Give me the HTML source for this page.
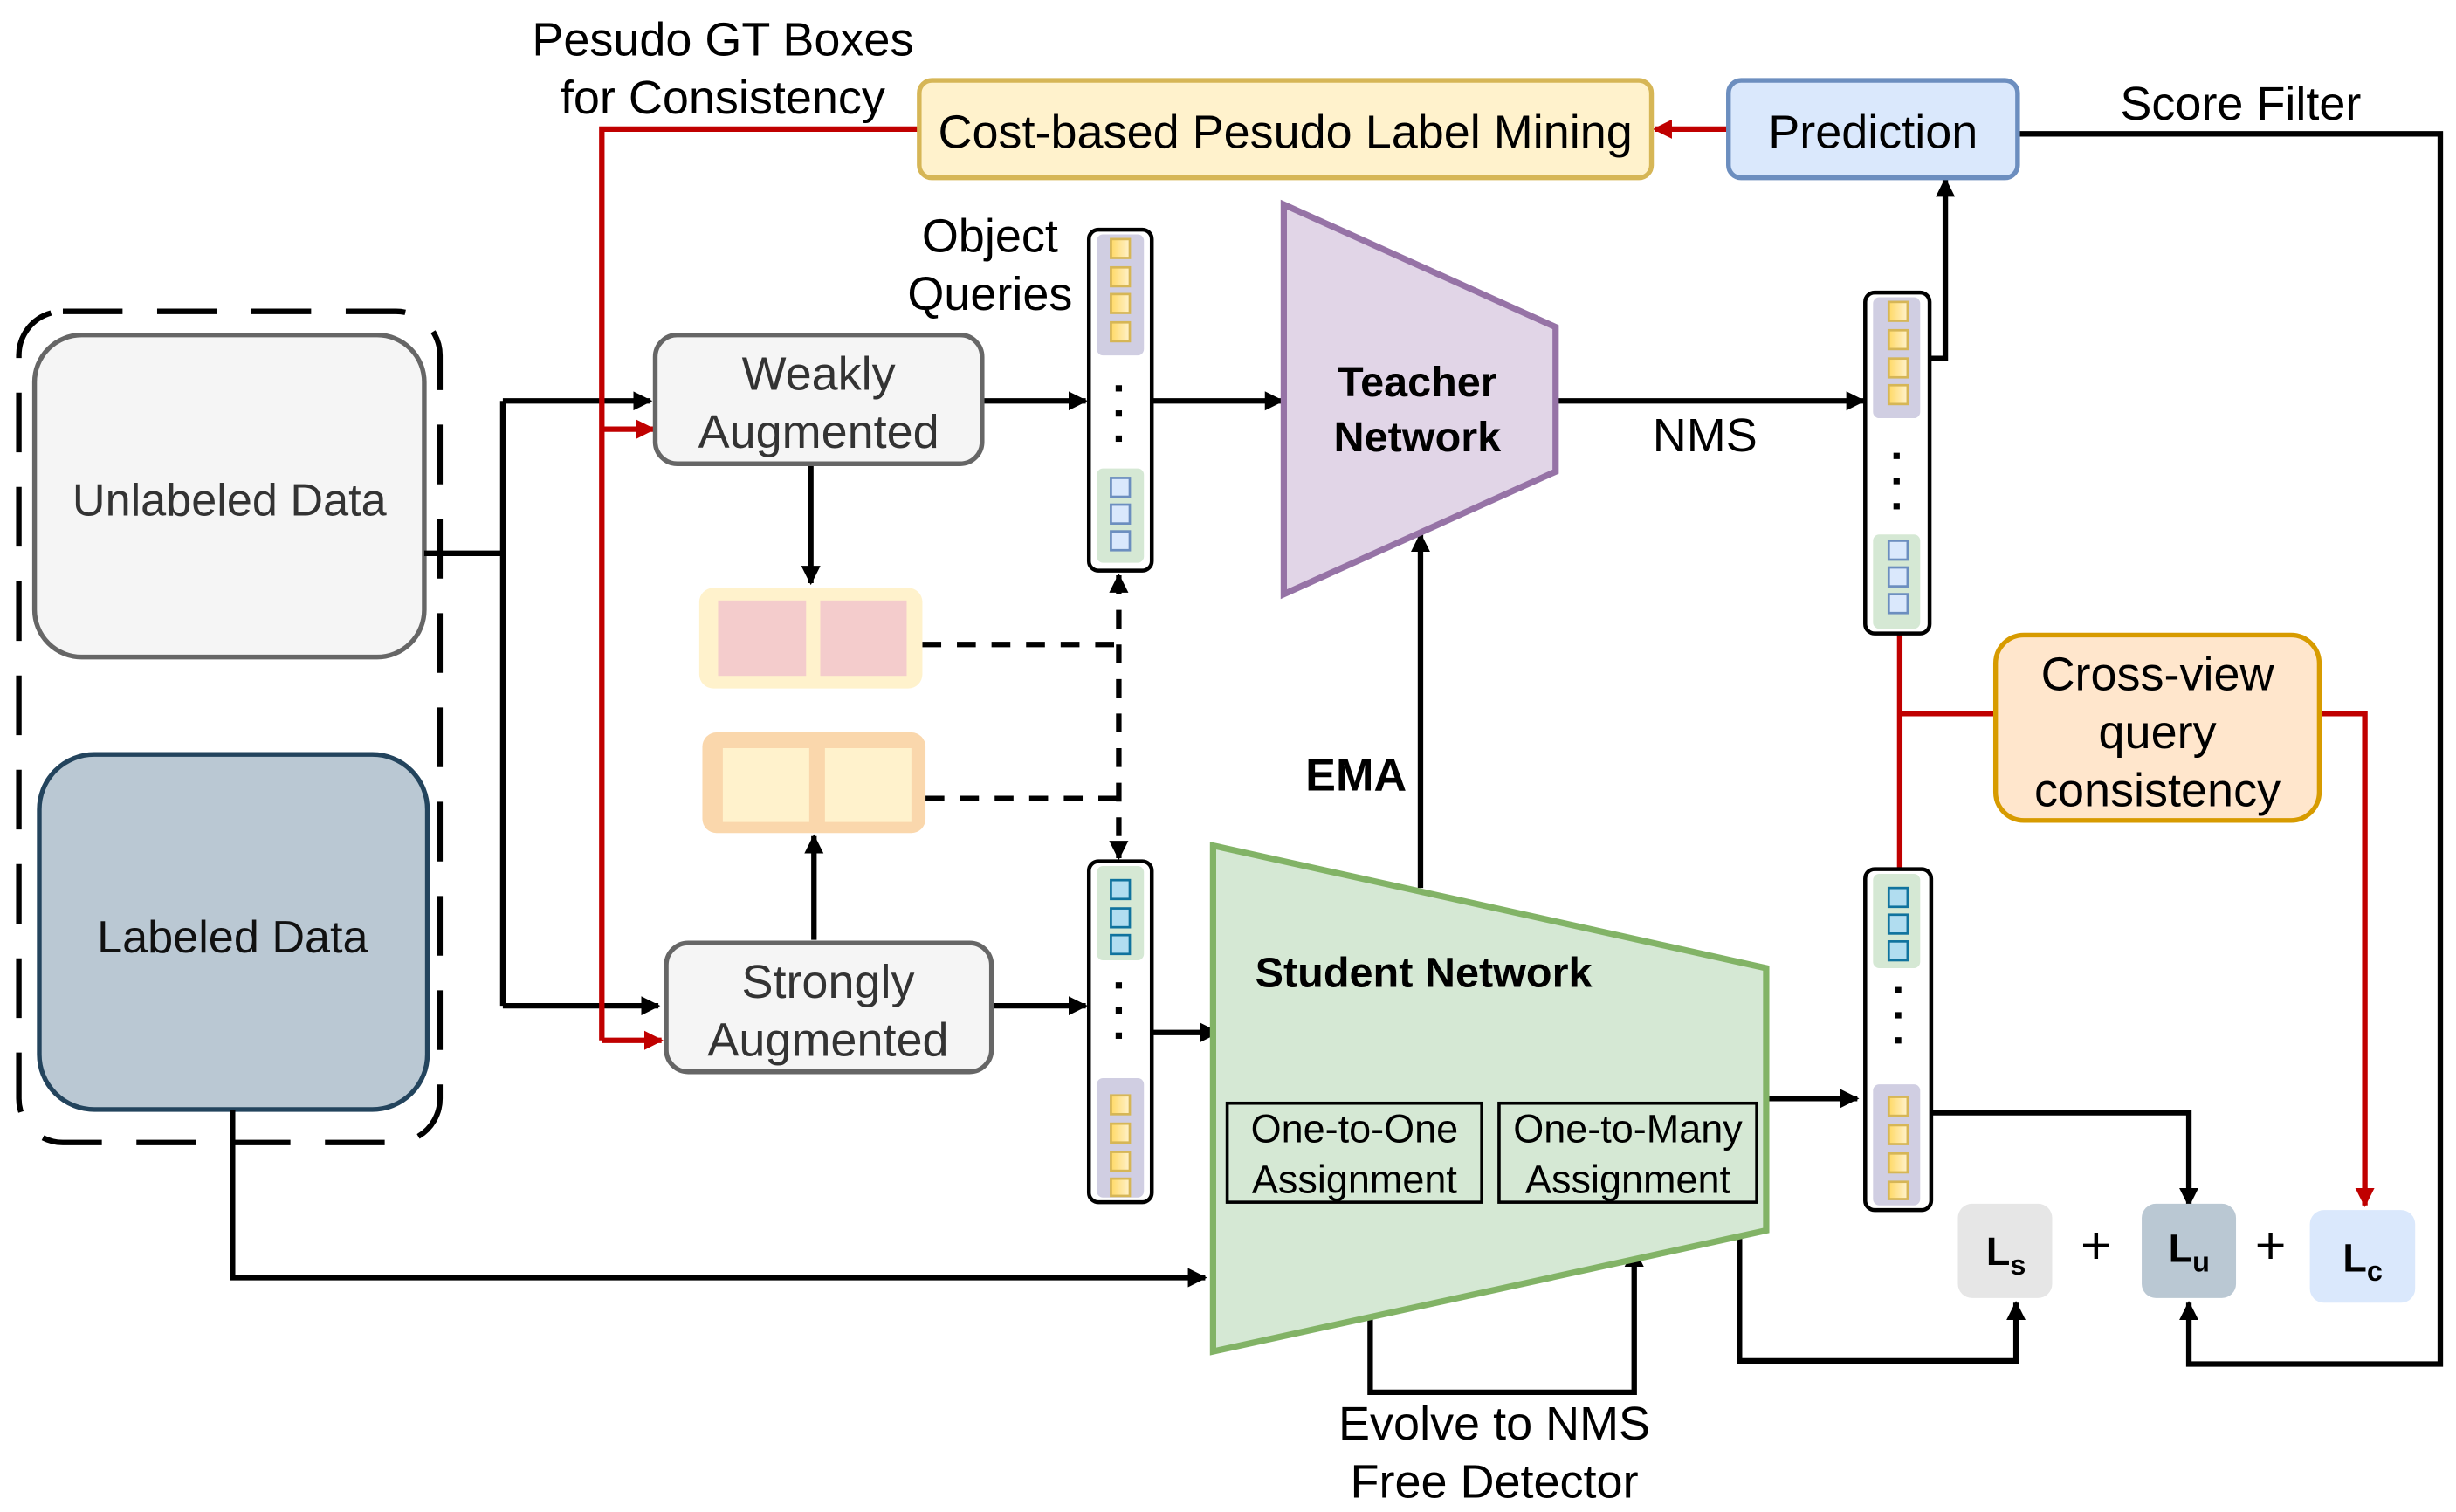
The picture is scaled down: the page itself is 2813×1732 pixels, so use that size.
<!DOCTYPE html>
<html><head><meta charset="utf-8"><style>html,body{margin:0;padding:0;background:#fff}svg{display:block}text{font-family:"Liberation Sans",sans-serif}</style></head>
<body>
<svg width="2813" height="1732" viewBox="0 0 1563 962" xmlns="http://www.w3.org/2000/svg">
<defs>
<marker id="a" viewBox="0 0 10 10" refX="9" refY="5" markerWidth="3.5" markerHeight="3.5" orient="auto-start-reverse"><path d="M0,0L10,5L0,10z" fill="#000"/></marker>
<marker id="r" viewBox="0 0 10 10" refX="9" refY="5" markerWidth="3.5" markerHeight="3.5" orient="auto-start-reverse"><path d="M0,0L10,5L0,10z" fill="#c00000"/></marker>
<linearGradient id="yg" x1="0" x2="1"><stop offset="0" stop-color="#ffd966"/><stop offset="1" stop-color="#fff2cc"/></linearGradient>
</defs>
<rect width="1563" height="962" fill="#fff"/>
<rect x="12" y="198" width="268" height="529" rx="28" fill="none" stroke="#000" stroke-width="3.5" stroke-dasharray="38 22"/>
<rect x="22" y="213" width="248" height="205" rx="30" fill="#f5f5f5" stroke="#666" stroke-width="3"/>
<text x="146" y="328" font-size="29" fill="#333" text-anchor="middle">Unlabeled Data</text>
<rect x="25" y="480" width="247" height="226" rx="35" fill="#bac8d3" stroke="#23445d" stroke-width="3"/>
<text x="148" y="606" font-size="29" fill="#111" text-anchor="middle">Labeled Data</text>
<g stroke="#000" stroke-width="3.5" fill="none">
<path d="M270,352H320M320,255V640"/>
<path d="M320,255H414" marker-end="url(#a)"/>
<path d="M320,640H419" marker-end="url(#a)"/>
<path d="M516,295V371" marker-end="url(#a)"/>
<path d="M518,598V532" marker-end="url(#a)"/>
<path d="M625,255H691" marker-end="url(#a)"/>
<path d="M733,255H816" marker-end="url(#a)"/>
<path d="M631,640H691" marker-end="url(#a)"/>
<path d="M733,657H775" marker-end="url(#a)"/>
<path d="M990,255H1186" marker-end="url(#a)"/>
<path d="M1228,228H1238V114" marker-end="url(#a)"/>
<path d="M1284,85H1553V868H1393V829" marker-end="url(#a)"/>
<path d="M1124,699H1182" marker-end="url(#a)"/>
<path d="M1229,708H1393V767" marker-end="url(#a)"/>
<path d="M1107,787V866H1283V829" marker-end="url(#a)"/>
<path d="M872,838V886H1040V795" marker-end="url(#a)"/>
<path d="M904,565V340" marker-end="url(#a)"/>
<path d="M148,706V813H767" marker-end="url(#a)"/>
</g>
<g stroke="#000" stroke-width="3.5" fill="none" stroke-dasharray="12 10">
<path d="M587,410H712M589,508H712"/>
<path d="M712,366V546" marker-start="url(#a)" marker-end="url(#a)"/>
</g>
<g stroke="#c00000" stroke-width="3.5" fill="none">
<path d="M585,82H383V662"/>
<path d="M383,273H416" marker-end="url(#r)"/>
<path d="M383,662H421" marker-end="url(#r)"/>
<path d="M1100,82H1053" marker-end="url(#r)"/>
<path d="M1209,403V553M1209,454H1270"/>
<path d="M1476,454H1505V767" marker-end="url(#r)"/>
</g>
<rect x="417" y="213" width="208" height="82" rx="14" fill="#f5f5f5" stroke="#666" stroke-width="3"/>
<text x="521" y="248" font-size="30" fill="#333" text-anchor="middle">Weakly</text>
<text x="521" y="285" font-size="30" fill="#333" text-anchor="middle">Augmented</text>
<rect x="424" y="600" width="207" height="82" rx="14" fill="#f5f5f5" stroke="#666" stroke-width="3"/>
<text x="527" y="635" font-size="30" fill="#333" text-anchor="middle">Strongly</text>
<text x="527" y="672" font-size="30" fill="#333" text-anchor="middle">Augmented</text>
<rect x="445" y="374" width="142" height="64" rx="9" fill="#fff2cc"/>
<rect x="457" y="382" width="56" height="48" fill="#f4cccc"/><rect x="522" y="382" width="55" height="48" fill="#f4cccc"/>
<rect x="447" y="466" width="142" height="64" rx="9" fill="#fad7ac"/>
<rect x="460" y="476" width="55" height="47" fill="#fff2cc"/><rect x="525" y="476" width="55" height="47" fill="#fff2cc"/>
<rect x="693" y="146" width="40" height="217" rx="6" fill="#fff" stroke="#000" stroke-width="2.5"/>
<rect x="698" y="149" width="30" height="77" rx="4" fill="#d0cee2"/>
<g fill="url(#yg)" stroke="#d6b656" stroke-width="1.5"><rect x="707" y="152" width="12" height="12"/><rect x="707" y="170" width="12" height="12"/><rect x="707" y="187" width="12" height="12"/><rect x="707" y="205" width="12" height="12"/></g>
<g fill="#000"><rect x="710" y="245" width="4" height="4"/><rect x="710" y="261" width="4" height="4"/><rect x="710" y="277" width="4" height="4"/></g>
<rect x="698" y="298" width="30" height="60" rx="4" fill="#d5e8d4"/>
<g fill="#dae8fc" stroke="#6c8ebf" stroke-width="1.5"><rect x="707" y="304" width="12" height="12"/><rect x="707" y="321" width="12" height="12"/><rect x="707" y="338" width="12" height="12"/></g>
<text x="630" y="160" font-size="30" fill="#000" text-anchor="middle">Object</text>
<text x="630" y="197" font-size="30" fill="#000" text-anchor="middle">Queries</text>
<rect x="693" y="548" width="40" height="217" rx="6" fill="#fff" stroke="#000" stroke-width="2.5"/>
<rect x="698" y="551" width="30" height="60" rx="4" fill="#d5e8d4"/>
<g fill="#b1ddf0" stroke="#10739e" stroke-width="1.5"><rect x="707" y="560" width="12" height="12"/><rect x="707" y="578" width="12" height="12"/><rect x="707" y="595" width="12" height="12"/></g>
<g fill="#000"><rect x="710" y="625" width="4" height="4"/><rect x="710" y="641" width="4" height="4"/><rect x="710" y="657" width="4" height="4"/></g>
<rect x="698" y="686" width="30" height="76" rx="4" fill="#d0cee2"/>
<g fill="url(#yg)" stroke="#d6b656" stroke-width="1.5"><rect x="707" y="697" width="12" height="12"/><rect x="707" y="715" width="12" height="12"/><rect x="707" y="733" width="12" height="12"/><rect x="707" y="750" width="12" height="11"/></g>
<rect x="1187" y="186" width="41" height="217" rx="6" fill="#fff" stroke="#000" stroke-width="2.5"/>
<rect x="1192" y="189" width="30" height="77" rx="4" fill="#d0cee2"/>
<g fill="url(#yg)" stroke="#d6b656" stroke-width="1.5"><rect x="1202" y="192" width="12" height="12"/><rect x="1202" y="210" width="12" height="12"/><rect x="1202" y="228" width="12" height="12"/><rect x="1202" y="245" width="12" height="12"/></g>
<g fill="#000"><rect x="1205" y="288" width="4" height="4"/><rect x="1205" y="304" width="4" height="4"/><rect x="1205" y="320" width="4" height="4"/></g>
<rect x="1192" y="340" width="30" height="60" rx="4" fill="#d5e8d4"/>
<g fill="#dae8fc" stroke="#6c8ebf" stroke-width="1.5"><rect x="1202" y="344" width="12" height="12"/><rect x="1202" y="361" width="12" height="12"/><rect x="1202" y="378" width="12" height="12"/></g>
<rect x="1187" y="553" width="42" height="217" rx="6" fill="#fff" stroke="#000" stroke-width="2.5"/>
<rect x="1192" y="556" width="30" height="60" rx="4" fill="#d5e8d4"/>
<g fill="#b1ddf0" stroke="#10739e" stroke-width="1.5"><rect x="1202" y="565" width="12" height="12"/><rect x="1202" y="582" width="12" height="12"/><rect x="1202" y="599" width="12" height="12"/></g>
<g fill="#000"><rect x="1206" y="628" width="4" height="4"/><rect x="1206" y="644" width="4" height="4"/><rect x="1206" y="660" width="4" height="4"/></g>
<rect x="1192" y="690" width="30" height="77" rx="4" fill="#d0cee2"/>
<g fill="url(#yg)" stroke="#d6b656" stroke-width="1.5"><rect x="1202" y="698" width="12" height="12"/><rect x="1202" y="716" width="12" height="12"/><rect x="1202" y="734" width="12" height="12"/><rect x="1202" y="752" width="12" height="11"/></g>
<polygon points="817,130 990,208 990,300 817,378" fill="#e1d5e7" stroke="#9673a6" stroke-width="4"/>
<text x="902" y="252" font-size="27" font-weight="bold" text-anchor="middle">Teacher</text>
<text x="902" y="287" font-size="27" font-weight="bold" text-anchor="middle">Network</text>
<text x="1085" y="287" font-size="30" text-anchor="middle">NMS</text>
<text x="863" y="503" font-size="29" font-weight="bold" text-anchor="middle">EMA</text>
<polygon points="772,538 1124,616 1124,783 772,860" fill="#d5e8d4" stroke="#82b366" stroke-width="4"/>
<text x="906" y="628" font-size="27" font-weight="bold" text-anchor="middle">Student Network</text>
<rect x="781" y="702" width="162" height="63" fill="none" stroke="#000" stroke-width="2"/>
<rect x="954" y="702" width="164" height="63" fill="none" stroke="#000" stroke-width="2"/>
<text x="862" y="727" font-size="25" text-anchor="middle">One-to-One</text>
<text x="862" y="759" font-size="25" text-anchor="middle">Assignment</text>
<text x="1036" y="727" font-size="25" text-anchor="middle">One-to-Many</text>
<text x="1036" y="759" font-size="25" text-anchor="middle">Assignment</text>
<text x="951" y="916" font-size="30" text-anchor="middle">Evolve to NMS</text>
<text x="951" y="953" font-size="30" text-anchor="middle">Free Detector</text>
<rect x="585" y="51" width="466" height="62" rx="8" fill="#fff2cc" stroke="#d6b656" stroke-width="3"/>
<text x="818" y="94" font-size="30" text-anchor="middle">Cost-based Pesudo Label Mining</text>
<rect x="1100" y="51" width="184" height="62" rx="8" fill="#dae8fc" stroke="#6c8ebf" stroke-width="3"/>
<text x="1192" y="94" font-size="30" text-anchor="middle">Prediction</text>
<text x="1426" y="76" font-size="30" text-anchor="middle">Score Filter</text>
<text x="460" y="35" font-size="30" text-anchor="middle">Pesudo GT Boxes</text>
<text x="460" y="72" font-size="30" text-anchor="middle">for Consistency</text>
<rect x="1270" y="404" width="206" height="118" rx="18" fill="#ffe6cc" stroke="#d79b00" stroke-width="3"/>
<text x="1373" y="439" font-size="30" text-anchor="middle">Cross-view</text>
<text x="1373" y="476" font-size="30" text-anchor="middle">query</text>
<text x="1373" y="513" font-size="30" text-anchor="middle">consistency</text>
<rect x="1246" y="766" width="60" height="60" rx="9" fill="#e6e6e6"/>
<rect x="1363" y="766" width="60" height="60" rx="9" fill="#bac8d3"/>
<rect x="1470" y="770" width="67" height="59" rx="9" fill="#dae8fc"/>
<text x="1264" y="805" font-size="25" font-weight="bold">L<tspan font-size="18" dy="6">s</tspan></text>
<text x="1380" y="803" font-size="25" font-weight="bold">L<tspan font-size="18" dy="6">u</tspan></text>
<text x="1491" y="809" font-size="25" font-weight="bold">L<tspan font-size="18" dy="6">c</tspan></text>
<text x="1334" y="804" font-size="34" text-anchor="middle">+</text>
<text x="1445" y="804" font-size="34" text-anchor="middle">+</text>
</svg>
</body></html>
